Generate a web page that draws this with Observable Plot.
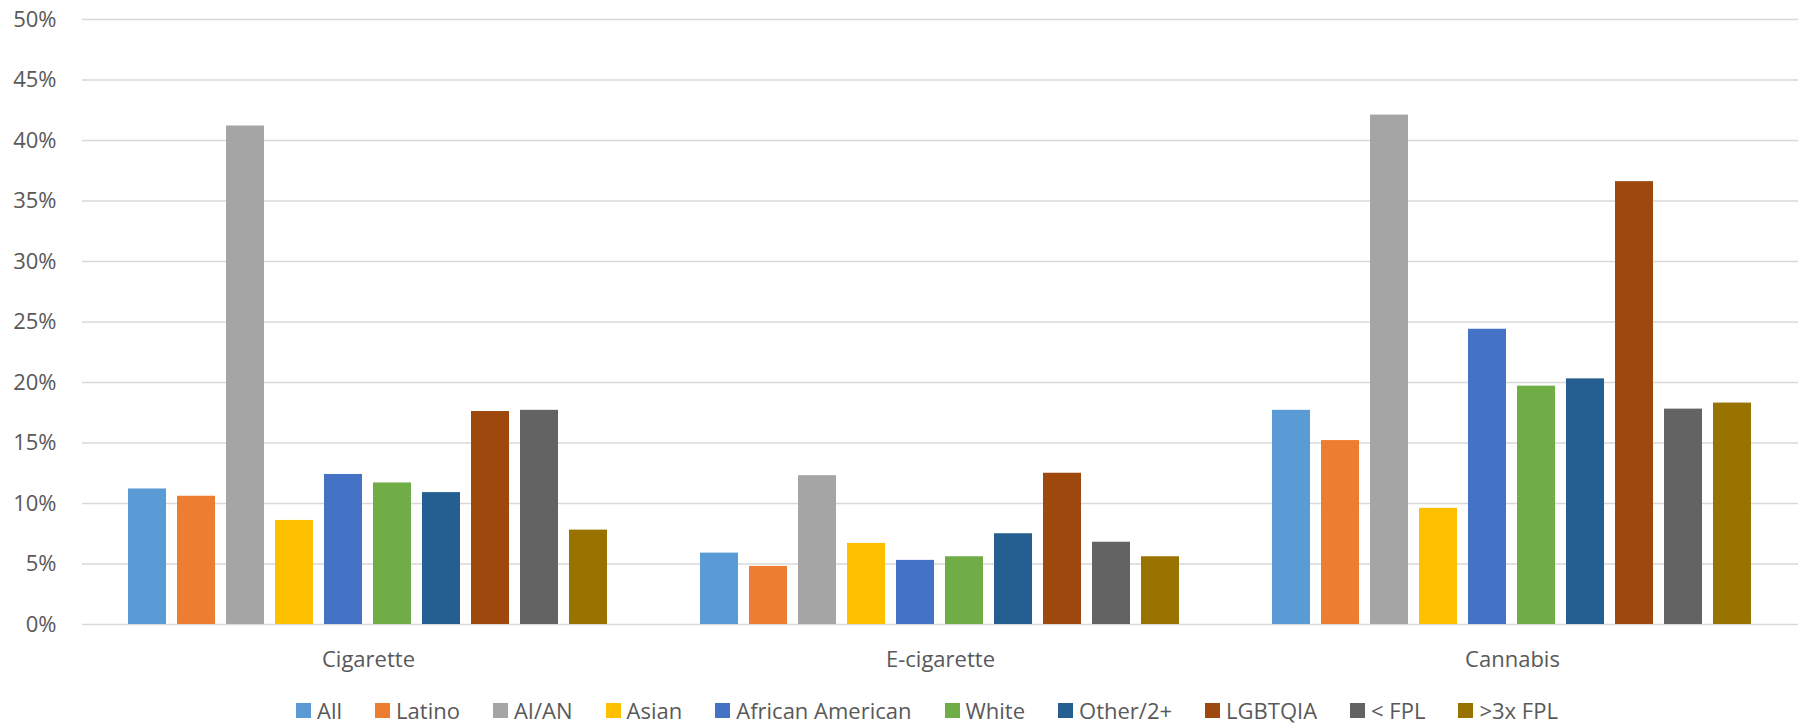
<!DOCTYPE html>
<html>
<head>
<meta charset="utf-8">
<script src="https://cdn.jsdelivr.net/npm/d3@7"></script>
<script src="https://cdn.jsdelivr.net/npm/@observablehq/plot@0.6"></script>
<style>
  html, body { margin: 0; padding: 0; background: #fff; }
  #chart { width: 1805px; }
  .legend { display: flex; justify-content: center; align-items: center; height: 60px; gap: 33px;
    font-family: "Open Sans", sans-serif; font-size: 22px; color: #595959; padding-left: 49px; box-sizing: border-box; width: 1805px; }
  .legend .item { display: flex; align-items: center; gap: 6px; white-space: nowrap; }
  .legend .sw { width: 15px; height: 15px; display: inline-block; }
</style>
</head>
<body>
<div id="chart"></div>
<script>
const categories = ["Cigarette", "E-cigarette", "Cannabis"];
const groups = ["All", "Latino", "AI/AN", "Asian", "African American", "White", "Other/2+", "LGBTQIA", "< FPL", ">3x FPL"];
const colors = ["#5B9BD5", "#ED7D31", "#A5A5A5", "#FFC000", "#4472C4", "#70AD47", "#255E91", "#9E480E", "#636363", "#997300"];
const cigarette = [11.2, 10.6, 41.2, 8.6, 12.4, 11.7, 10.9, 17.6, 17.7, 7.8];
const eCigarette = [5.9, 4.8, 12.3, 6.7, 5.3, 5.6, 7.5, 12.5, 6.8, 5.6];
const cannabis = [17.7, 15.2, 42.1, 9.6, 24.4, 19.7, 20.3, 36.6, 17.8, 18.3];
const yTicks = [0, 5, 10, 15, 20, 25, 30, 35, 40, 45, 50];

const seriesByCategory = [cigarette, eCigarette, cannabis];
const data = categories.flatMap((c, i) => groups.map((g, j) => ({category: c, group: g, value: seriesByCategory[i][j]})));

const chart = Plot.plot({
  width: 1805,
  height: 680,
  marginLeft: 82,
  marginRight: 7,
  marginTop: 19,
  marginBottom: 56,
  style: {fontFamily: "'Open Sans', sans-serif", fontSize: "22px", color: "#595959", background: "white"},
  fx: {domain: categories, padding: 0, label: null, axis: "bottom", tickSize: 0, tickPadding: 27},
  x: {domain: groups, paddingInner: 0.215, paddingOuter: 0.862, axis: null},
  y: {domain: [0, 50], ticks: yTicks, tickFormat: d => d + "%", tickSize: 0, tickPadding: 26, label: null},
  color: {domain: groups, range: colors},
  marks: [
    Plot.ruleY(yTicks, {stroke: "#d9d9d9", strokeWidth: 1.3}),
    Plot.barY(data, {fx: "category", x: "group", y: "value", fill: "group"})
  ]
});
document.getElementById("chart").appendChild(chart);

const legend = document.createElement("div");
legend.className = "legend";
groups.forEach((g, i) => {
  const item = document.createElement("span");
  item.className = "item";
  const sw = document.createElement("span");
  sw.className = "sw";
  sw.style.background = colors[i];
  const t = document.createElement("span");
  t.textContent = g;
  item.appendChild(sw);
  item.appendChild(t);
  legend.appendChild(item);
});
document.getElementById("chart").appendChild(legend);
</script>
</body>
</html>
